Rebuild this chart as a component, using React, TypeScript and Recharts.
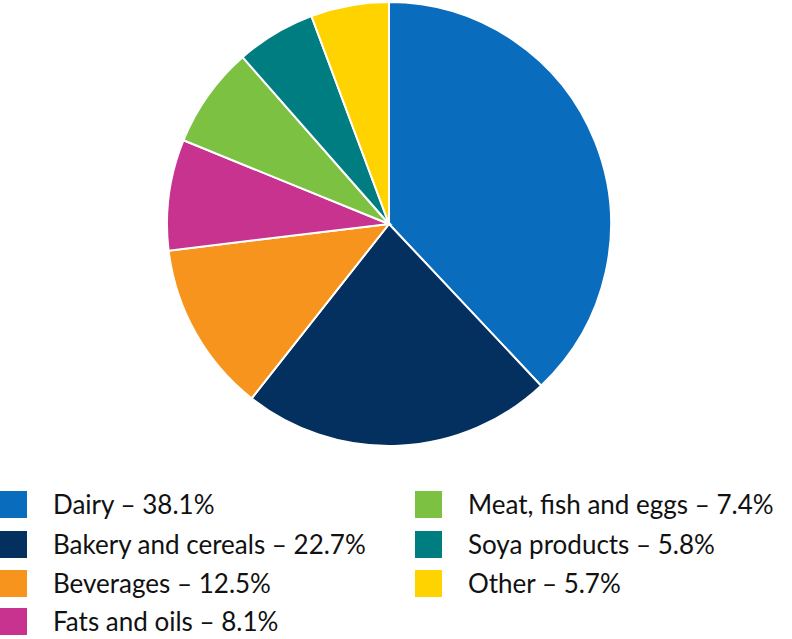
import { PieChart, Pie, Cell } from "recharts";

const CATEGORIES = [
  "Dairy",
  "Bakery and cereals",
  "Beverages",
  "Fats and oils",
  "Meat, fish and eggs",
  "Soya products",
  "Other",
];
const SHARES = [38.1, 22.7, 12.5, 8.1, 7.4, 5.8, 5.7];
const COLORS = ["#0a6cbc", "#03305f", "#f7941e", "#c7338e", "#7cc142", "#007d80", "#ffd300"];

const data = CATEGORIES.map((name, i) => ({ name, value: SHARES[i] }));

const FONT = "Lato, 'Open Sans', sans-serif";

function LegendItem(props: { idx: number; left: number; top: number }) {
  const { idx, left, top } = props;
  return (
    <div style={{ position: "absolute", left, top, display: "flex", alignItems: "center", height: 28 }}>
      <div style={{ width: 27, height: 27, background: COLORS[idx] }} />
      <span
        style={{
          marginLeft: 26,
          fontFamily: FONT,
          fontSize: 26,
          color: "#111",
          whiteSpace: "nowrap",
          lineHeight: "28px",
        }}
      >
        {CATEGORIES[idx]} – {SHARES[idx].toFixed(1)}%
      </span>
    </div>
  );
}

export default function App() {
  const leftRows = [490, 530, 569, 607];
  const rightRows = [490, 530, 569];
  return (
    <div style={{ position: "absolute", left: 0, top: 0, width: 792, height: 639, background: "#fff" }}>
      <PieChart width={792} height={460} margin={{ top: 0, right: 0, bottom: 0, left: 0 }}>
        <Pie
          data={data}
          dataKey="value"
          nameKey="name"
          cx={389}
          cy={224}
          outerRadius={222}
          startAngle={90}
          endAngle={-270}
          stroke="#fff"
          strokeWidth={2}
          isAnimationActive={false}
        >
          {data.map((d, i) => (
            <Cell key={d.name} fill={COLORS[i]} />
          ))}
        </Pie>
      </PieChart>
      {leftRows.map((top, i) => (
        <LegendItem key={i} idx={i} left={0} top={top} />
      ))}
      {rightRows.map((top, i) => (
        <LegendItem key={i + 4} idx={i + 4} left={415} top={top} />
      ))}
    </div>
  );
}
